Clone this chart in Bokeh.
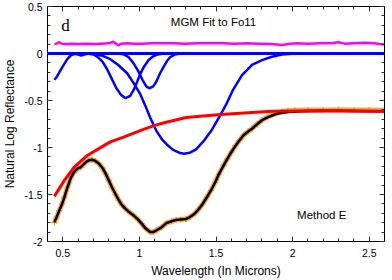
from bokeh.plotting import figure
from bokeh.models import (Label, LinearAxis, SingleIntervalTicker, Span,
                          CustomLabelingPolicy)
from bokeh.embed import file_html
from bokeh.resources import INLINE

# ---------------- data ----------------
xtick_vals = [0.5, 1.0, 1.5, 2.0, 2.5]
xtick_labels = ["0.5", "1", "1.5", "2", "2.5"]
ytick_vals = [-2.0, -1.5, -1.0, -0.5, 0.0, 0.5]
ytick_labels = ["-2", "-1.5", "-1", "-0.5", "0", "0.5"]

# measured spectrum (orange) and MGM model fit (black)
fit_wl = [0.445, 0.46, 0.477, 0.495, 0.51, 0.531, 0.553, 0.57, 0.585, 0.60, 0.617,
          0.635, 0.65, 0.67, 0.69, 0.71, 0.735, 0.76, 0.78, 0.80, 0.82, 0.845,
          0.865, 0.885, 0.908, 0.935, 0.96, 0.99, 1.015, 1.04, 1.07, 1.09, 1.112,
          1.144, 1.176, 1.21, 1.24, 1.27, 1.305, 1.33, 1.36, 1.385, 1.413, 1.44,
          1.467, 1.495, 1.52, 1.55, 1.574, 1.60, 1.628, 1.655, 1.68, 1.71, 1.735,
          1.77, 1.80, 1.83, 1.865, 1.90, 1.93, 1.97, 2.015, 2.10, 2.20, 2.30,
          2.40, 2.50, 2.60]
fit_val = [-1.795, -1.74, -1.67, -1.60, -1.53, -1.42, -1.32, -1.27, -1.24, -1.22, -1.21,
           -1.18, -1.156, -1.135, -1.13, -1.14, -1.17, -1.22, -1.28, -1.35, -1.42, -1.50,
           -1.56, -1.61, -1.65, -1.69, -1.72, -1.765, -1.81, -1.86, -1.90, -1.90, -1.88,
           -1.85, -1.805, -1.785, -1.77, -1.765, -1.76, -1.74, -1.705, -1.66, -1.60, -1.53,
           -1.457, -1.37, -1.28, -1.19, -1.12, -1.05, -0.98, -0.92, -0.87, -0.83, -0.80,
           -0.75, -0.71, -0.685, -0.66, -0.64, -0.63, -0.622, -0.617, -0.612, -0.61, -0.61,
           -0.612, -0.614, -0.615]
data_val = [-1.80, -1.74, -1.67, -1.60, -1.53, -1.42, -1.32, -1.27, -1.24, -1.22, -1.21,
            -1.18, -1.155, -1.135, -1.13, -1.14, -1.17, -1.22, -1.28, -1.35, -1.42, -1.50,
            -1.56, -1.61, -1.65, -1.69, -1.72, -1.765, -1.81, -1.86, -1.90, -1.90, -1.88,
            -1.85, -1.805, -1.785, -1.77, -1.765, -1.76, -1.74, -1.705, -1.66, -1.60, -1.53,
            -1.457, -1.37, -1.28, -1.19, -1.12, -1.05, -0.98, -0.92, -0.87, -0.83, -0.80,
            -0.75, -0.71, -0.68, -0.655, -0.635, -0.62, -0.61, -0.605, -0.60, -0.60, -0.598,
            -0.60, -0.60, -0.605]

# continuum (red)
cont_wl = [0.445, 0.51, 0.574, 0.66, 0.768, 0.81, 0.897, 1.005, 1.09, 1.155, 1.305,
           1.53, 1.865, 2.20, 2.60]
cont_val = [-1.52, -1.35, -1.21, -1.085, -0.98, -0.94, -0.89, -0.82, -0.77, -0.74, -0.68,
            -0.65, -0.615, -0.61, -0.615]

# residual, offset (magenta)
resid_wl = [0.445, 0.46, 0.477, 0.49, 0.52, 0.56, 0.60, 0.65, 0.70, 0.75, 0.80, 0.83,
            0.85, 0.865, 0.88, 0.92, 0.97, 1.02, 1.08, 1.15, 1.22, 1.30, 1.38, 1.46,
            1.55, 1.62, 1.70, 1.78, 1.85, 1.90, 1.93, 1.97, 2.03, 2.10, 2.18, 2.25,
            2.30, 2.34, 2.40, 2.47, 2.53, 2.57, 2.60]
resid_val = [0.10, 0.105, 0.12, 0.105, 0.10, 0.105, 0.10, 0.103, 0.102, 0.105, 0.108, 0.125,
             0.10, 0.085, 0.105, 0.11, 0.103, 0.105, 0.11, 0.108, 0.11, 0.105, 0.11, 0.108,
             0.11, 0.105, 0.11, 0.105, 0.10, 0.095, 0.09, 0.10, 0.11, 0.105, 0.11, 0.108,
             0.12, 0.105, 0.11, 0.115, 0.11, 0.10, 0.095]

# individual MGM absorption bands (blue)
bandA_wl = [0.445, 0.46, 0.477, 0.495, 0.51, 0.525, 0.54, 0.555, 0.575, 0.60]
bandA_val = [-0.28, -0.25, -0.20, -0.15, -0.11, -0.07, -0.04, -0.017, -0.005, 0.0]
bandB_wl = [0.57, 0.60, 0.62, 0.64, 0.67]
bandB_val = [0.0, -0.012, -0.022, -0.012, 0.0]
band1_wl = [0.66, 0.70, 0.73, 0.76, 0.79, 0.82, 0.85, 0.88, 0.91, 0.94, 0.965, 0.985,
            1.005, 1.03, 1.06, 1.09, 1.12, 1.16]
band1_val = [0.0, -0.01, -0.04, -0.09, -0.17, -0.27, -0.37, -0.44, -0.475, -0.45, -0.38, -0.30,
             -0.22, -0.14, -0.07, -0.03, -0.01, 0.0]
band2_wl = [0.87, 0.90, 0.93, 0.96, 0.99, 1.02, 1.045, 1.065, 1.09, 1.11, 1.135, 1.155,
            1.18, 1.20, 1.23, 1.27]
band2_val = [0.0, -0.01, -0.04, -0.10, -0.18, -0.28, -0.35, -0.37, -0.35, -0.30, -0.21, -0.15,
             -0.08, -0.04, -0.012, 0.0]
band3_wl = [0.68, 0.72, 0.76, 0.81, 0.86, 0.92, 0.96, 1.005, 1.04, 1.07, 1.11, 1.15, 1.18,
            1.22, 1.26, 1.29, 1.33, 1.37, 1.42, 1.47, 1.53, 1.57, 1.61, 1.67, 1.735, 1.80,
            1.865, 1.93, 2.0, 2.05]
band3_val = [0.0, -0.01, -0.025, -0.06, -0.12, -0.21, -0.31, -0.43, -0.56, -0.68, -0.82, -0.92,
             -0.97, -1.025, -1.055, -1.067, -1.055, -1.02, -0.93, -0.82, -0.65, -0.53, -0.39,
             -0.23, -0.12, -0.07, -0.035, -0.012, -0.002, 0.0]

# ---------------- figure ----------------
FONT = "Liberation Sans"
p = figure(width=392, height=280, x_range=(0.4, 2.6), y_range=(-2.0, 0.5),
           output_backend="svg", toolbar_location=None,
           min_border_left=43, min_border_right=8, min_border_top=6, min_border_bottom=39)
p.xgrid.visible = False
p.ygrid.visible = False
p.outline_line_color = "black"
p.outline_line_width = 1
p.background_fill_color = "white"
p.border_fill_color = "white"

no_labels = CustomLabelingPolicy(code="""
try { for (let i = 0; i < indices.size; i++) { indices.unset(i) } } catch (e) {}
return indices
""")


def style_axis(ax, labels):
    ax.axis_line_color = "black"
    ax.major_tick_in = 5
    ax.major_tick_out = 0
    ax.minor_tick_in = 3
    ax.minor_tick_out = 0
    ax.major_tick_line_color = "#333333"
    ax.minor_tick_line_color = "#333333"
    if labels:
        ax.major_label_text_font = FONT
        ax.major_label_text_font_size = "10.5px"
        ax.major_label_text_color = "black"
        ax.axis_label_text_font = FONT
        ax.axis_label_text_font_size = "12px"
        ax.axis_label_text_font_style = "normal"
        ax.axis_label_text_color = "black"
    else:
        ax.major_label_text_font_size = "0px"
        ax.major_label_standoff = 0
        ax.major_label_policy = no_labels


p.xaxis.ticker = SingleIntervalTicker(interval=0.5, num_minor_ticks=5)
p.yaxis.ticker = SingleIntervalTicker(interval=0.5, num_minor_ticks=5)
p.xaxis.major_label_overrides = dict(zip(xtick_vals, xtick_labels))
p.yaxis.major_label_overrides = dict(zip(ytick_vals, ytick_labels))
p.xaxis.axis_label = "Wavelength (In Microns)"
p.yaxis.axis_label = "Natural Log Reflectance"
for ax in p.xaxis + p.yaxis:
    style_axis(ax, True)
p.xaxis.major_label_standoff = 7
p.xaxis.axis_label_standoff = 4
p.yaxis.major_label_standoff = 5
p.yaxis.axis_label_standoff = 4

top = LinearAxis(ticker=SingleIntervalTicker(interval=0.5, num_minor_ticks=5))
right = LinearAxis(ticker=SingleIntervalTicker(interval=0.5, num_minor_ticks=5))
style_axis(top, False)
style_axis(right, False)
p.add_layout(top, "above")
p.add_layout(right, "right")

# zero baseline for the bands
p.add_layout(Span(location=0, dimension="width", line_color="#0000ff", line_width=3))

# measured data (orange) + MGM fit (black)
p.line(fit_wl, data_val, line_color="#f7941d", line_width=5, line_alpha=0.8)
p.scatter(fit_wl, data_val, marker="cross", size=6, line_color="#f7941d", line_width=1.2)
p.line(fit_wl, fit_val, line_color="black", line_width=2.5)

# bands
for bx, by in [(bandA_wl, bandA_val), (bandB_wl, bandB_val), (band1_wl, band1_val),
               (band2_wl, band2_val), (band3_wl, band3_val)]:
    p.line(bx, by, line_color="#0000ff", line_width=2.5)

# residual
p.line(resid_wl, resid_val, line_color="#ff00ff", line_width=2.5)

# continuum
p.line(cont_wl, cont_val, line_color="#ff0000", line_width=3)

p.add_layout(Label(x=0.49, y=0.30, text="d", text_font="Liberation Serif",
                   text_font_size="17px", text_baseline="middle", text_color="black"))
p.add_layout(Label(x=1.484, y=0.335, text="MGM Fit to Fo11", text_font=FONT,
                   text_font_size="11.5px", text_align="center", text_baseline="middle",
                   text_color="black"))
p.add_layout(Label(x=2.19, y=-1.72, text="Method E", text_font=FONT,
                   text_font_size="11.5px", text_align="center", text_baseline="middle",
                   text_color="black"))

open("out.html", "w").write(file_html(p, INLINE))
